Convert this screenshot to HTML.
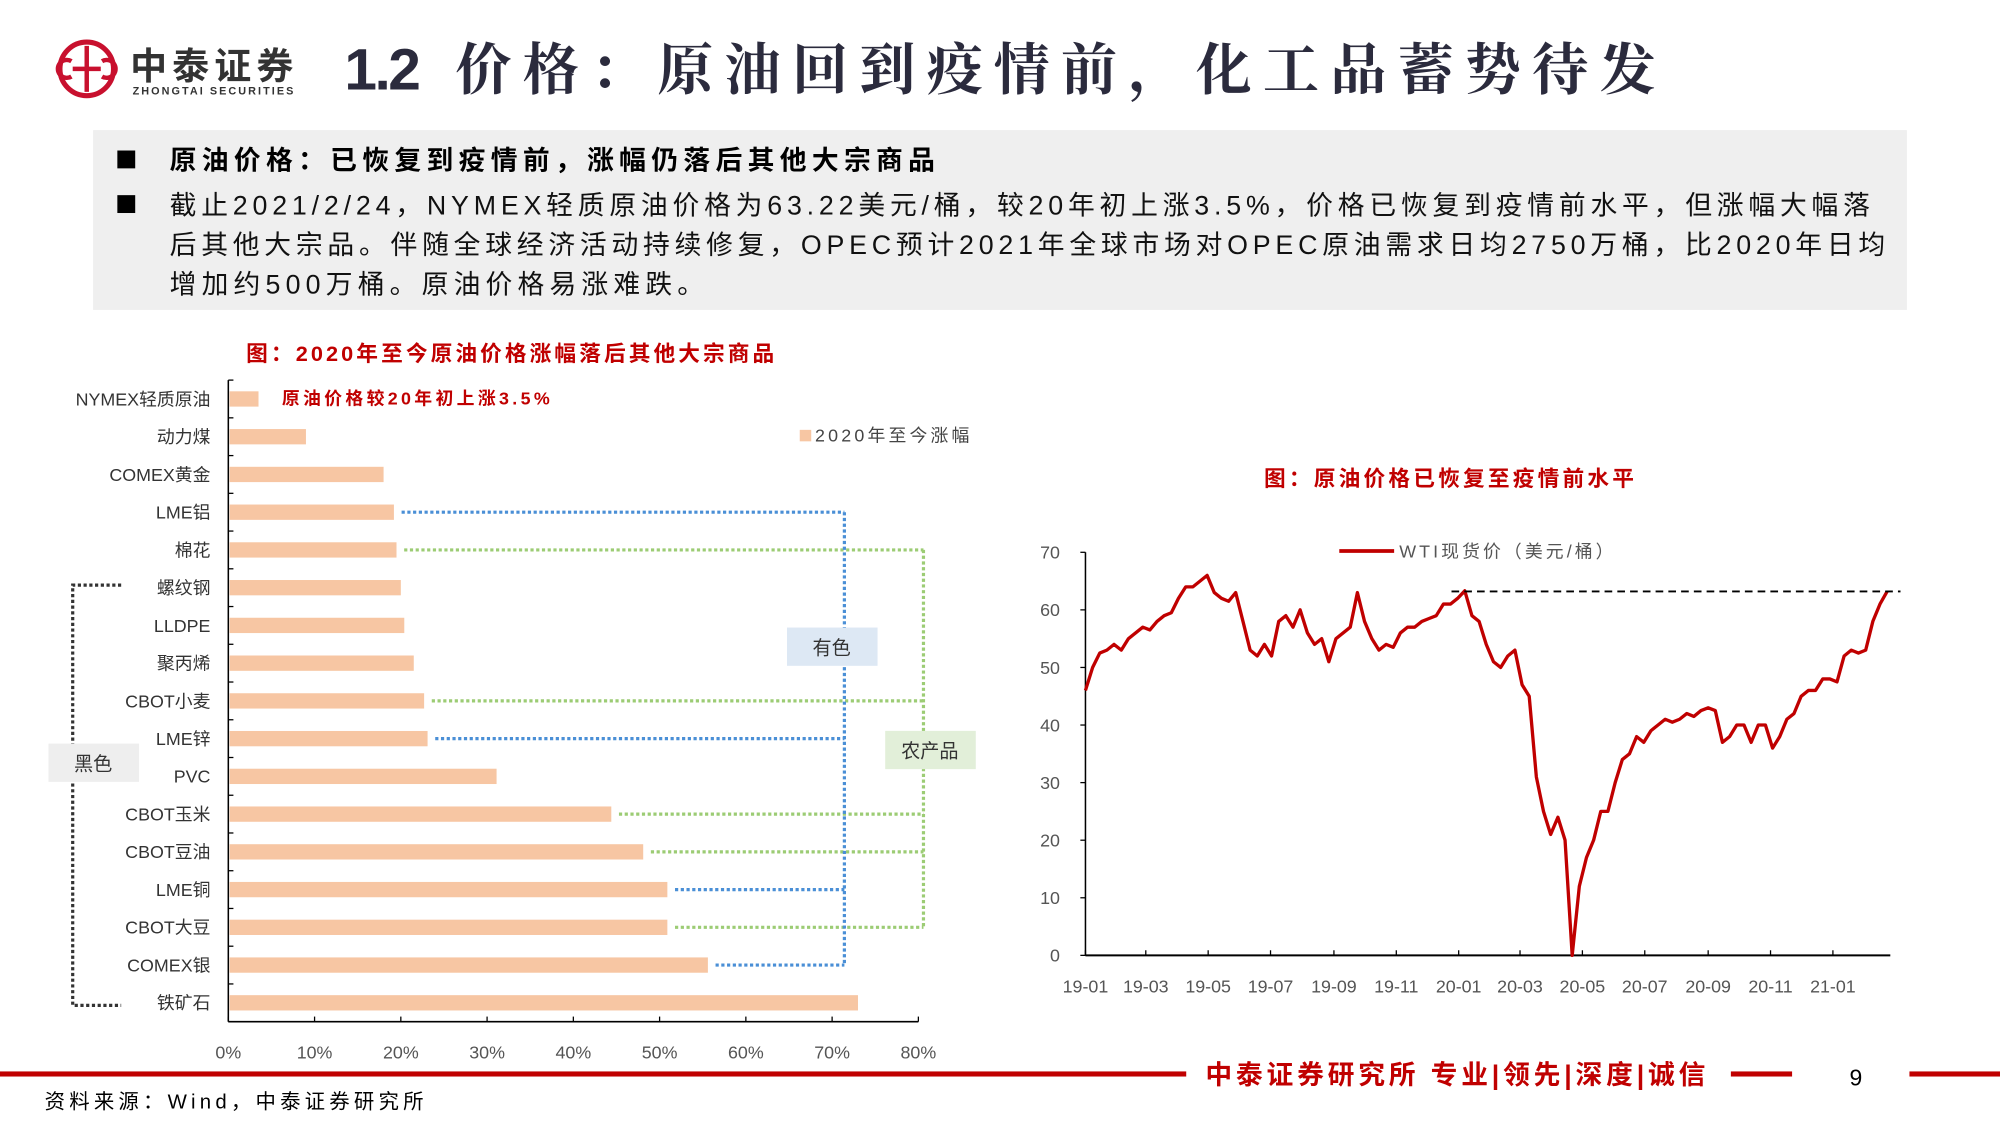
<!DOCTYPE html>
<html><head><meta charset="utf-8"><style>
html,body{margin:0;padding:0;background:#fff;}
svg{display:block;}
text{font-family:"Liberation Sans","Noto Sans CJK SC",sans-serif;}
.serif{font-family:"Liberation Serif","Noto Serif CJK SC",serif;}
</style></head><body>
<svg id="page" width="2000" height="1125" viewBox="0 0 1568 882" xmlns="http://www.w3.org/2000/svg">
<rect width="1568" height="882" fill="#fff"/>
<g>
  <circle cx="68" cy="54" r="21" fill="none" stroke="#c8102e" stroke-width="4"/>
  <path d="M68 36 L68 72 M56 48 a7 7 0 1 0 0 12 M80 48 a7 7 0 1 1 0 12 M57 54 L79 54" stroke="#c8102e" stroke-width="3.5" fill="none"/>
  <text x="102" y="62" font-size="29" font-weight="bold" fill="#333" textLength="128">中泰证券</text>
  <text x="104" y="74" font-size="8.5" font-weight="bold" fill="#333" textLength="126">ZHONGTAI SECURITIES</text>
</g>
<text x="270" y="70" font-size="46" font-weight="bold" fill="#2b2b3d" letter-spacing="-2">1.2</text>
<text x="357" y="70" font-size="44" font-weight="bold" fill="#2b2b3d" class="serif" textLength="941">价格：原油回到疫情前，化工品蓄势待发</text>
<g>
  <rect x="73" y="102" width="1422" height="141" fill="#efefef"/>
  <rect x="92" y="118" width="14" height="14" fill="#000"/>
  <rect x="92" y="153" width="14" height="14" fill="#000"/>
  <text x="133" y="133" font-size="21" font-weight="bold" fill="#000" textLength="600">原油价格：已恢复到疫情前，涨幅仍落后其他大宗商品</text>
  <text x="133" y="168" font-size="21" fill="#111" textLength="1333">截止2021/2/24，NYMEX轻质原油价格为63.22美元/桶，较20年初上涨3.5%，价格已恢复到疫情前水平，但涨幅大幅落</text>
  <text x="133" y="199" font-size="21" fill="#111" textLength="1345">后其他大宗品。伴随全球经济活动持续修复，OPEC预计2021年全球市场对OPEC原油需求日均2750万桶，比2020年日均</text>
  <text x="133" y="230" font-size="21" fill="#111" textLength="419">增加约500万桶。原油价格易涨难跌。</text>
</g>
<g id="bar-chart">
  <text x="193" y="283" font-size="17" font-weight="bold" fill="#c00000" textLength="414">图：2020年至今原油价格涨幅落后其他大宗商品</text>
  <text x="221" y="317" font-size="14" font-weight="bold" fill="#c00000" textLength="210">原油价格较20年初上涨3.5%</text>
  <rect x="627" y="337" width="9" height="9" fill="#f7c6a3"/>
  <text x="639" y="346" font-size="14" fill="#444" textLength="121">2020年至今涨幅</text>
</g>
<g id="line-chart">
  <text x="991" y="381" font-size="17" font-weight="bold" fill="#c00000" textLength="290">图：原油价格已恢复至疫情前水平</text>
  <line x1="1050" y1="432" x2="1093" y2="432" stroke="#c00000" stroke-width="3"/>
  <text x="1097" y="437" font-size="14" fill="#555" textLength="168">WTI现货价（美元/桶）</text>
</g>
<g>
  <rect x="0" y="840" width="930" height="4" fill="#c00000"/>
  <rect x="1357" y="840" width="48" height="4" fill="#c00000"/>
  <rect x="1497" y="840" width="71" height="4" fill="#c00000"/>
  <text x="945" y="850" font-size="21" font-weight="bold" fill="#c00000" textLength="392">中泰证券研究所 专业|领先|深度|诚信</text>
  <text x="1450" y="851" font-size="18" fill="#000">9</text>
  <text x="35" y="869" font-size="16" fill="#000" textLength="297">资料来源：Wind，中泰证券研究所</text>
</g>
</svg>
<script>
var NS="http://www.w3.org/2000/svg";
var barCategories=["NYMEX轻质原油","动力煤","COMEX黄金","LME铝","棉花","螺纹钢","LLDPE","聚丙烯","CBOT小麦","LME锌","PVC","CBOT玉米","CBOT豆油","LME铜","CBOT大豆","COMEX银","铁矿石"];
var barValues=[3.5,9.0,18.0,19.2,19.5,20.0,20.4,21.5,22.7,23.1,31.1,44.4,48.1,50.9,50.9,55.6,73.0];
var xTickLabels=["0%","10%","20%","30%","40%","50%","60%","70%","80%"];
var xTickValues=[0,10,20,30,40,50,60,70,80];
var nonferrousGroup=["LME铝","LME锌","LME铜","COMEX银"];
var agriGroup=["棉花","CBOT小麦","CBOT玉米","CBOT豆油","CBOT大豆"];

var wtiPrices=[46,50,52.5,53,54, 53,55,56,57, 56.5,58,59,59.5, 62,64,64,65,66, 63,62,61.5,63, 58,53,52,54,52, 58,59,57,60, 56,54,55,51,55, 56,57,63,58, 55,53,54,53.5, 56,57,57,58, 58.5,59,61,61,62, 63.3,59,58,54, 51,50,52,53, 47,45,31, 25,21,24,20,0, 12,17,20,25,25,30,34,35,38,37,39,40,41,40.5,41,42,41.5,42.5, 43,42.5,37,38,40,40,37,40,40,36,38,41,42, 45,46,46,48,48,47.5,52,53,52.5,53, 58,61,63.2];
var wtiYTicks=[0,10,20,30,40,50,60,70];
var wtiXLabels=["19-01","19-03","19-05","19-07","19-09","19-11","20-01","20-03","20-05","20-07","20-09","20-11","21-01"];
var preCovidLevel=63.2;

function mk(tag,attrs,parent,txt){var e=document.createElementNS(NS,tag);for(var k in attrs)e.setAttribute(k,attrs[k]);if(txt!==undefined)e.textContent=txt;parent.appendChild(e);return e;}

(function(){
var g=document.getElementById("bar-chart");
var x0=179,x1=720,top=298,bot=801;
function xs(v){return x0+(v/80)*(x1-x0);}
var step=(bot-top)/barCategories.length;
function yc(i){return top+step*(i+0.5);}
var ax=mk("line",{x1:x0,y1:top,x2:x0,y2:bot,stroke:"#000","stroke-width":1.2},g);


var bx=mk("line",{x1:x0,y1:bot,x2:x1,y2:bot,stroke:"#000","stroke-width":1.2},g);


for(var i=0;i<=barCategories.length;i++){mk("line",{x1:x0,y1:top+step*i,x2:x0+4,y2:top+step*i,stroke:"#000"},g);}
xTickValues.forEach(function(v,i){
  mk("line",{x1:xs(v),y1:bot,x2:xs(v),y2:bot-4,stroke:"#000"},g);
  var t=mk("text",{x:xs(v),y:830,"text-anchor":"middle","font-size":14,fill:"#555"},g,xTickLabels[i]);
  
  
});
barCategories.forEach(function(c,i){
  var r=mk("rect",{x:x0+1,y:yc(i)-6,width:xs(barValues[i])-x0-1,height:12,fill:"#f7c6a3"},g);
  
  
  var t=mk("text",{x:165,y:yc(i)+5,"text-anchor":"end","font-size":14,fill:"#333"},g,c);
  
  
});
function bracket(list,xv,color,name){
  var ys=[];
  list.forEach(function(c){var i=barCategories.indexOf(c);var y=yc(i);ys.push(y);
    var l=mk("line",{x1:xs(barValues[i])+6,y1:y,x2:xv,y2:y,stroke:color,"stroke-width":2.5,"stroke-dasharray":"2.5 2"},g);
    
    
  });
  var v=mk("line",{x1:xv,y1:Math.min.apply(null,ys),x2:xv,y2:Math.max.apply(null,ys),stroke:color,"stroke-width":2.5,"stroke-dasharray":"2.5 2"},g);
  
  
}
bracket(agriGroup,724,"#9ccc74","agri");
bracket(nonferrousGroup,662,"#4a8fd6","nonferrous");
var blk=mk("path",{d:"M95 "+(yc(5)-2)+" H57 V"+(yc(16)+2)+" H95",fill:"none",stroke:"#333","stroke-width":2.5,"stroke-dasharray":"2.5 2"},g);


var b1=mk("rect",{x:617,y:492,width:71,height:30,fill:"#dde8f4"},g);


mk("text",{x:652,y:513,"text-anchor":"middle","font-size":15,fill:"#333"},g,"有色");
var b2=mk("rect",{x:694,y:573,width:71,height:30,fill:"#e2efd9"},g);


mk("text",{x:729,y:594,"text-anchor":"middle","font-size":15,fill:"#333"},g,"农产品");
var b3=mk("rect",{x:38,y:583,width:71,height:30,fill:"#eeeeee"},g);


mk("text",{x:73,y:604,"text-anchor":"middle","font-size":15,fill:"#333"},g,"黑色");
})();

(function(){
var g=document.getElementById("line-chart");
var x0=851,y0=749,y70=433,pxPerDay=586/731;
var start=Date.UTC(2019,0,1);
function xd(d){return x0+d*pxPerDay;}
function ys(v){return y0-(v/70)*(y0-y70);}
var ax=mk("line",{x1:x0,y1:y70,x2:x0,y2:y0,stroke:"#000","stroke-width":1.2},g);


var bx=mk("line",{x1:x0,y1:y0,x2:1482,y2:y0,stroke:"#000","stroke-width":1.5},g);


wtiYTicks.forEach(function(v){
  mk("line",{x1:x0-4,y1:ys(v),x2:x0,y2:ys(v),stroke:"#000"},g);
  var t=mk("text",{x:831,y:ys(v)+5,"text-anchor":"end","font-size":14,fill:"#555"},g,String(v));
  
  
});
wtiXLabels.forEach(function(l){
  var yy=2000+parseInt(l.slice(0,2),10),mm=parseInt(l.slice(3),10)-1;
  var d=(Date.UTC(yy,mm,1)-start)/86400000;
  mk("line",{x1:xd(d),y1:y0,x2:xd(d),y2:y0-4,stroke:"#000"},g);
  var t=mk("text",{x:xd(d),y:778,"text-anchor":"middle","font-size":14,fill:"#555"},g,l);
  
  
});
var pts=wtiPrices.map(function(v,i){return xd(i*7).toFixed(1)+","+ys(v).toFixed(1);});
var pl=mk("polyline",{points:pts.join(" "),fill:"none",stroke:"#c00000","stroke-width":2.6,"stroke-linejoin":"round"},g);


var dl=mk("line",{x1:xd(358),y1:ys(preCovidLevel),x2:1490,y2:ys(preCovidLevel),stroke:"#000","stroke-width":1.5,"stroke-dasharray":"6 4"},g);


})();
</script>
</body></html>
